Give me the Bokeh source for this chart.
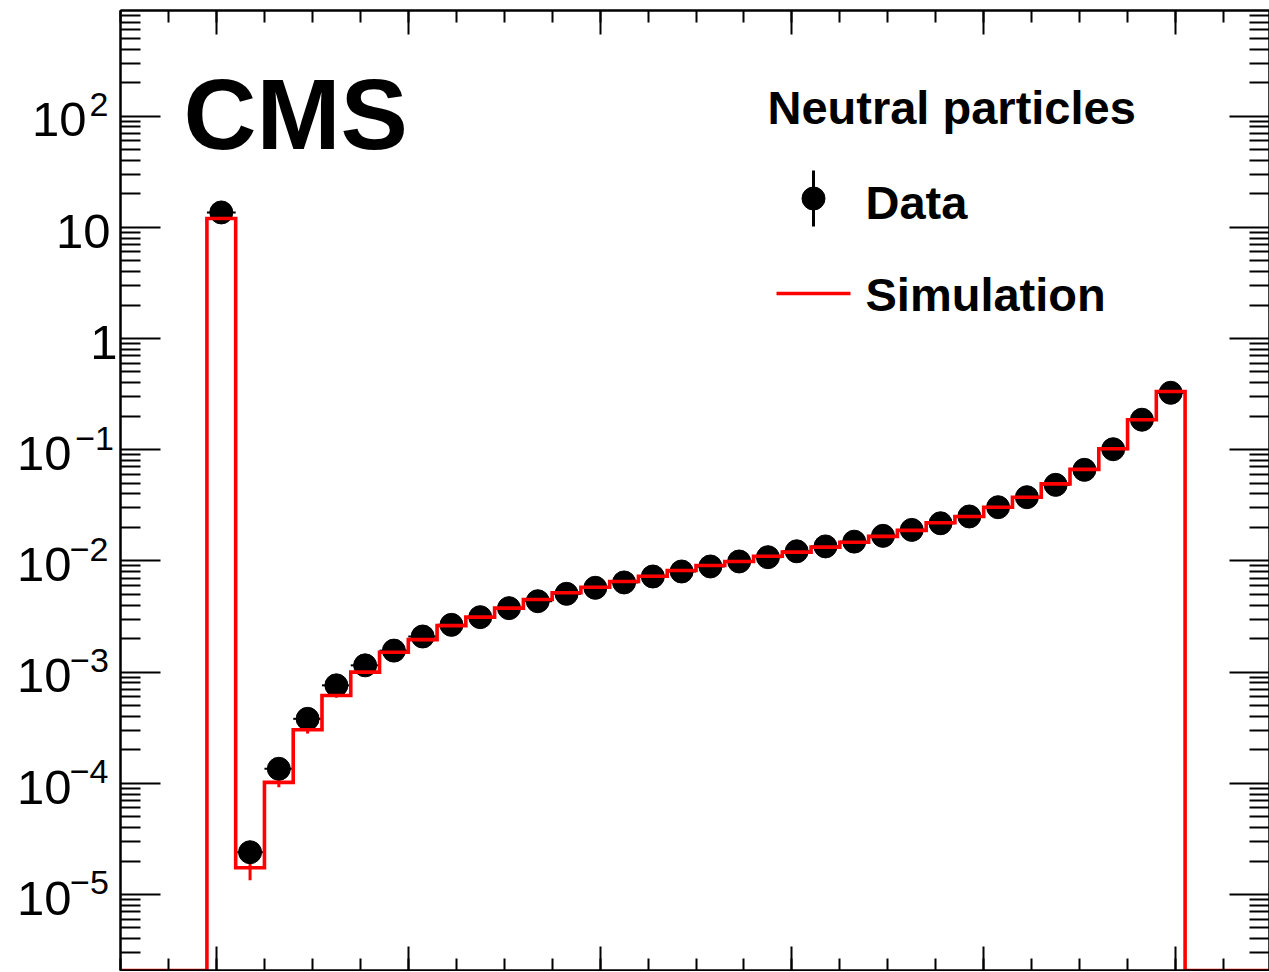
import numpy as np
from math import log10
from bokeh.plotting import figure
from bokeh.layouts import row
from bokeh.models import Range1d, FixedTicker, LinearAxis, LogAxis, Label
from bokeh.embed import file_html
from bokeh.resources import INLINE

# ---------------- data ----------------
bin_edges = [round(-0.01 + 0.03 * k, 2) for k in range(35)]

data_values = [13.6, 2.40e-5, 1.35e-4, 3.80e-4, 7.6e-4, 1.15e-3, 1.56e-3, 2.09e-3,
               2.66e-3, 3.12e-3, 3.76e-3, 4.34e-3, 5.06e-3, 5.73e-3, 6.40e-3, 7.24e-3,
               8.03e-3, 8.91e-3, 9.88e-3, 1.08e-2, 1.22e-2, 1.35e-2, 1.49e-2, 1.68e-2,
               1.90e-2, 2.18e-2, 2.51e-2, 3.04e-2, 3.74e-2, 4.83e-2, 6.59e-2, 0.101,
               0.186, 0.325]
data_errors = [0.2, 0.3e-5, 0.8e-5, 1.2e-5, 1.5e-5, 2.0e-5, 2.0e-5, 2.5e-5,
               3.0e-5, 3.0e-5, 3.5e-5, 4.0e-5, 4.0e-5, 4.5e-5, 5.0e-5, 5.0e-5,
               5.5e-5, 6.0e-5, 6.0e-5, 6.5e-5, 7.0e-5, 7.0e-5, 7.5e-5, 8.0e-5,
               8.5e-5, 9.0e-5, 1.0e-4, 1.1e-4, 1.2e-4, 1.4e-4, 1.6e-4, 2.0e-4,
               3.0e-4, 4.0e-4]

sim_values = [12.0, 1.74e-5, 1.02e-4, 3.03e-4, 6.16e-4, 1.00e-3, 1.51e-3, 1.96e-3,
              2.62e-3, 3.12e-3, 3.76e-3, 4.50e-3, 5.17e-3, 5.80e-3, 6.53e-3, 7.28e-3,
              8.20e-3, 9.10e-3, 9.88e-3, 1.10e-2, 1.20e-2, 1.33e-2, 1.47e-2, 1.66e-2,
              1.88e-2, 2.20e-2, 2.51e-2, 3.04e-2, 3.74e-2, 4.93e-2, 6.65e-2, 0.102,
              0.186, 0.334]
sim_errors = [0.1, 0.40e-5, 1.0e-5, 2.3e-5, 2.5e-5, 2.5e-5, 2.5e-5, 2.5e-5,
              2.5e-5, 2.5e-5, 3.0e-5, 3.0e-5, 3.0e-5, 3.0e-5, 3.0e-5, 3.0e-5,
              3.0e-5, 3.0e-5, 3.0e-5, 3.0e-5, 3.0e-5, 3.0e-5, 3.0e-5, 3.0e-5,
              3.0e-5, 3.0e-5, 3.0e-5, 4.0e-5, 4.0e-5, 5.0e-5, 6.0e-5, 8.0e-5,
              1.0e-4, 1.5e-4]

y_tick_exponents = [2, 1, 0, -1, -2, -3, -4, -5]
x_major_ticks = [0.0, 0.2, 0.4, 0.6, 0.8, 1.0]
x_minor_ticks = [round(-0.1 + 0.05 * k, 2) for k in range(25)]

legend_title = "Neutral particles"
legend_labels = ["Data", "Simulation"]
experiment = "CMS"

# ---------------- geometry ----------------
H = 971
LW = 118                      # width of the tick-label strip (left figure)
W = 1269 - LW                 # main figure width
B_LEFT, B_TOP, B_RIGHT, B_BOTTOM = 2, 10, 0, 1
FRAME_W = W - B_LEFT - B_RIGHT
FRAME_H = H - B_TOP - B_BOTTOM
PAGE_LEFT = LW + B_LEFT       # 120
PAGE_TOP = B_TOP
PX_PER_UNIT = 959.0
X_START = -(216.0 - PAGE_LEFT) / PX_PER_UNIT
X_END = X_START + FRAME_W / PX_PER_UNIT
PX_PER_DECADE = 111.2
Y_END = 10 ** ((338.0 - PAGE_TOP) / PX_PER_DECADE)
Y_START = 10 ** (log10(Y_END) - FRAME_H / PX_PER_DECADE)
BASE_SHIFT = 0.37  # label anchor offset (em) to land the alphabetic baseline


def px(page_x):
    return X_START + (page_x - PAGE_LEFT) * (X_END - X_START) / FRAME_W


def py(page_y):
    return 10 ** (log10(Y_END) - (page_y - PAGE_TOP) / PX_PER_DECADE)


def page_y_of(v):
    return PAGE_TOP + (log10(Y_END) - log10(v)) * PX_PER_DECADE


y_range = Range1d(Y_START, Y_END)

# ---------------- main figure ----------------
p = figure(width=W, height=H, x_range=Range1d(X_START, X_END),
           y_range=y_range, y_axis_type="log",
           output_backend="svg", toolbar_location=None, title=None,
           min_border_left=B_LEFT, min_border_top=B_TOP,
           min_border_right=B_RIGHT, min_border_bottom=B_BOTTOM)
p.outline_line_color = None
p.xgrid.visible = False
p.ygrid.visible = False
p.background_fill_color = "white"
p.border_fill_color = "white"

y_major = [10.0 ** e for e in range(-5, 3)]
y_minor = [k * 10.0 ** d for d in range(-6, 3) for k in range(2, 10)
           if Y_START <= k * 10.0 ** d <= Y_END]


def style_axis(ax, tick_len, tick_values):
    # ticks drawn as (label-free) minor ticks so that no tick labels are produced
    ax.ticker = FixedTicker(ticks=[], minor_ticks=tick_values)
    ax.axis_line_color = "black"
    ax.axis_line_width = 2
    ax.major_tick_in = 0
    ax.major_tick_out = 0
    ax.minor_tick_in = tick_len
    ax.minor_tick_out = 0
    ax.minor_tick_line_color = "black"
    ax.minor_tick_line_width = 2
    ax.major_label_standoff = 0
    ax.axis_label = None


style_axis(p.xaxis[0], 12, x_minor_ticks)
style_axis(p.yaxis[0], 20, y_minor)
for side, cls, ln, vals in [("below", LinearAxis, 24, x_major_ticks),
                            ("left", LogAxis, 40, y_major),
                            ("above", LinearAxis, 12, x_minor_ticks),
                            ("above", LinearAxis, 24, x_major_ticks),
                            ("right", LogAxis, 20, y_minor),
                            ("right", LogAxis, 40, y_major)]:
    ax = cls()
    style_axis(ax, ln, vals)
    p.add_layout(ax, side)

# ---------------- glyphs ----------------
lo_edges = bin_edges[:-1]
hi_edges = bin_edges[1:]
centers = [(a + b) / 2 for a, b in zip(lo_edges, hi_edges)]

# simulation uncertainties
p.segment(x0=centers, x1=centers,
          y0=[v - e for v, e in zip(sim_values, sim_errors)],
          y1=[v + e for v, e in zip(sim_values, sim_errors)],
          line_color="#ff0000", line_width=3)

# data
p.segment(x0=lo_edges, x1=hi_edges, y0=data_values, y1=data_values,
          line_color="black", line_width=2)
p.segment(x0=centers, x1=centers,
          y0=[v - e for v, e in zip(data_values, data_errors)],
          y1=[v + e for v, e in zip(data_values, data_errors)],
          line_color="black", line_width=2)
p.scatter(x=centers, y=data_values, size=23, marker="circle",
          fill_color="black", line_color="black")

# simulation histogram (step)
xs = [X_START, bin_edges[0]]
ys = [Y_START, Y_START]
for a, b, v in zip(lo_edges, hi_edges, sim_values):
    xs += [a, b]
    ys += [v, v]
xs += [bin_edges[-1], X_END]
ys += [Y_START, Y_START]
p.line(xs, ys, line_color="#ff0000", line_width=3.6, line_join="miter")

FONT = "Liberation Sans"

# ---------------- CMS + legend ----------------


def data_label(x, baseline, text, fs):
    return Label(x=px(x), y=py(baseline - BASE_SHIFT * fs), text=text, text_font=FONT,
                 text_font_style="bold", text_font_size=f"{fs}px",
                 text_baseline="alphabetic", text_color="black")


p.add_layout(data_label(183, 151, experiment, 101))
p.add_layout(data_label(767, 124, legend_title, 47))
p.add_layout(data_label(865, 219, legend_labels[0], 47))
p.add_layout(data_label(865, 311, legend_labels[1], 47))

# legend keys
p.segment(x0=[px(813)], x1=[px(813)], y0=[py(226)], y1=[py(170)],
          line_color="black", line_width=3)
p.scatter(x=[px(813)], y=[py(198)], size=23, marker="circle",
          fill_color="black", line_color="black")
p.segment(x0=[px(776)], x1=[px(850)], y0=[py(293)], y1=[py(293)],
          line_color="#ff0000", line_width=3.6)

# ---------------- y tick-label strip (left figure, shares the y range) ----------------
lab = figure(width=LW, height=H, x_range=Range1d(0, LW), y_range=y_range,
             y_axis_type="log", x_axis_location=None, y_axis_location=None,
             output_backend="svg", toolbar_location=None, title=None,
             min_border_left=0, min_border_right=0,
             min_border_top=B_TOP, min_border_bottom=B_BOTTOM)
lab.outline_line_color = None
lab.xgrid.visible = False
lab.ygrid.visible = False
lab.background_fill_color = "white"
lab.border_fill_color = "white"

RB = {'0': 0.04, '1': 0.19, '2': 0.03, '3': 0.04, '4': 0.03, '5': 0.04}
MAIN_FS = 49
EXP_FS = 34


def tick_label(x, baseline, text, fs):
    return Label(x=x, y=py(baseline - BASE_SHIFT * fs), text=text,
                 text_align="right", text_baseline="alphabetic",
                 text_font=FONT, text_font_size=f"{fs}px", text_color="black")


for e in y_tick_exponents:
    ty = page_y_of(10.0 ** e)
    if e == 0:
        txt, anchor = "1", 108 + RB['1'] * MAIN_FS
    elif e == 1:
        txt, anchor = "10", 108 + RB['0'] * MAIN_FS
    else:
        txt = "10"
        anchor = 86 if e > 0 else 71
        exp_txt = str(e).replace("-", "\u2212")
        lab.add_layout(tick_label(min(107 + RB[exp_txt[-1]] * EXP_FS, LW - 1),
                                  ty + 1, exp_txt, EXP_FS))
    lab.add_layout(tick_label(min(anchor, LW - 1), ty + 22, txt, MAIN_FS))

layout = row(lab, p)
open("out.html", "w").write(file_html(layout, INLINE))
